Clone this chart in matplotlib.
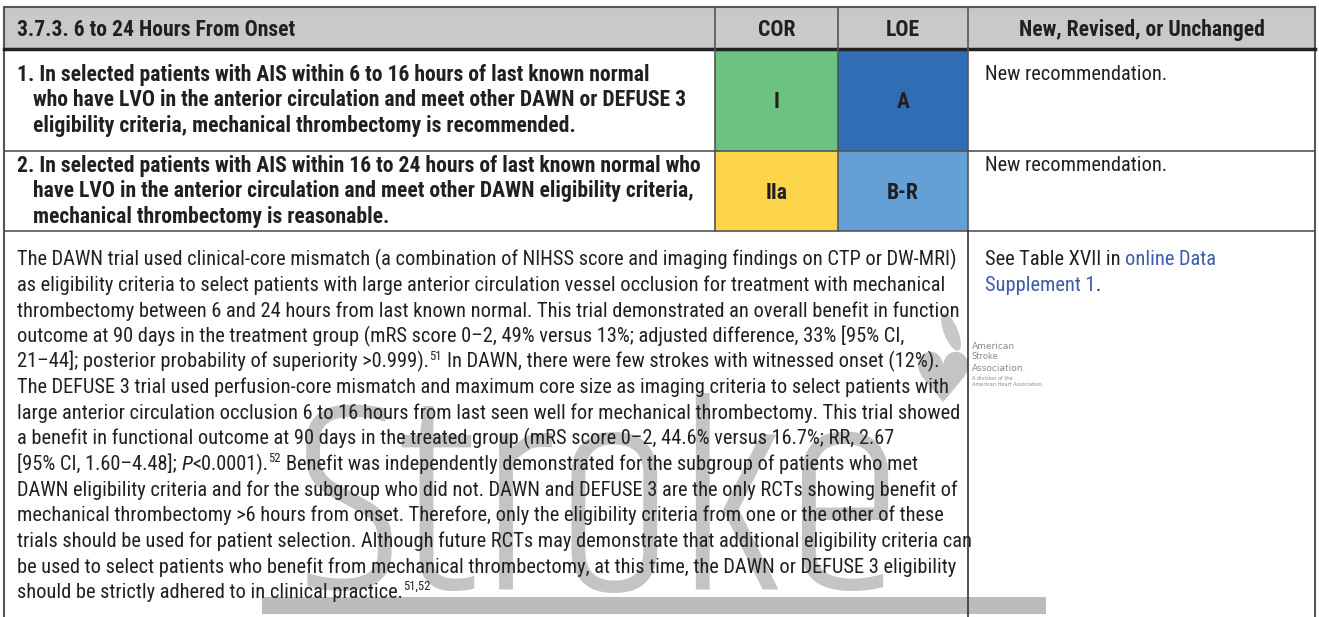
import os
import matplotlib
matplotlib.use("Agg")
import matplotlib.pyplot as plt
from matplotlib import font_manager
from matplotlib.font_manager import FontProperties
from matplotlib.patches import Rectangle, Ellipse

# table content
header_labels = ["3.7.3. 6 to 24 Hours From Onset", "COR", "LOE", "New, Revised, or Unchanged"]
rec_lines = [
    ["1. In selected patients with AIS within 6 to 16 hours of last known normal",
     "who have LVO in the anterior circulation and meet other DAWN or DEFUSE 3",
     "eligibility criteria, mechanical thrombectomy is recommended."],
    ["2. In selected patients with AIS within 16 to 24 hours of last known normal who",
     "have LVO in the anterior circulation and meet other DAWN eligibility criteria,",
     "mechanical thrombectomy is reasonable."],
]
cor = ["I", "IIa"]
loe = ["A", "B-R"]
status = ["New recommendation.", "New recommendation."]
cor_colors = ["#6cc281", "#fdd54a"]
loe_colors = ["#2f6db5", "#649fd5"]
# each paragraph line is a list of runs: (text, kind) with kind r=regular, i=italic, s=superscript
para_lines = [
    [("The DAWN trial used clinical-core mismatch (a combination of NIHSS score and imaging findings on CTP or DW-MRI)", "r")],
    [("as eligibility criteria to select patients with large anterior circulation vessel occlusion for treatment with mechanical", "r")],
    [("thrombectomy between 6 and 24 hours from last known normal. This trial demonstrated an overall benefit in function", "r")],
    [("outcome at 90 days in the treatment group (mRS score 0\u20132, 49% versus 13%; adjusted difference, 33% [95% CI,", "r")],
    [("21\u201344]; posterior probability of superiority >0.999).", "r"), ("51", "s"),
     (" In DAWN, there were few strokes with witnessed onset (12%).", "r")],
    [("The DEFUSE 3 trial used perfusion-core mismatch and maximum core size as imaging criteria to select patients with", "r")],
    [("large anterior circulation occlusion 6 to 16 hours from last seen well for mechanical thrombectomy. This trial showed", "r")],
    [("a benefit in functional outcome at 90 days in the treated group (mRS score 0\u20132, 44.6% versus 16.7%; RR, 2.67", "r")],
    [("[95% CI, 1.60\u20134.48]; ", "r"), ("P", "i"), ("<0.0001).", "r"), ("52", "s"),
     (" Benefit was independently demonstrated for the subgroup of patients who met", "r")],
    [("DAWN eligibility criteria and for the subgroup who did not. DAWN and DEFUSE 3 are the only RCTs showing benefit of", "r")],
    [("mechanical thrombectomy >6 hours from onset. Therefore, only the eligibility criteria from one or the other of these", "r")],
    [("trials should be used for patient selection. Although future RCTs may demonstrate that additional eligibility criteria can", "r")],
    [("be used to select patients who benefit from mechanical thrombectomy, at this time, the DAWN or DEFUSE 3 eligibility", "r")],
    [("should be strictly adhered to in clinical practice.", "r"), ("51,52", "s")],
]
evidence = [[("See Table XVII in ", "r"), ("online Data", "l")],
            [("Supplement 1", "l"), (".", "r")]]
logo_lines = ["American", "Stroke", "Association.", "A division of the", "American Heart Association."]


# pick a narrow / condensed face if one is installed
def wnum(w):
    return w if isinstance(w, int) else font_manager.weight_dict.get(w, 400)


def find_faces(prefix):
    got = {}
    for f in font_manager.fontManager.ttflist:
        key = (f.name + " " + os.path.basename(f.fname)).lower()
        narrow = "narrow" in key or ("condensed" in key and not any(b in key for b in ("semi", "extra", "ultra")))
        if not narrow or not f.name.lower().startswith(prefix):
            continue
        w = wnum(f.weight)
        if f.style == "normal" and 350 <= w <= 450:
            got.setdefault("r", f.fname)
        elif f.style == "normal" and 650 <= w <= 750:
            got.setdefault("b", f.fname)
        elif f.style != "normal" and 350 <= w <= 450:
            got.setdefault("i", f.fname)
    return got


faces = {}
for p in ["liberation sans narrow", "arial narrow", "nimbus sans narrow", "roboto condensed",
          "noto sans", "open sans", "dejavu sans"]:
    g = find_faces(p)
    if "r" in g and "b" in g:
        faces = g
        break


def fprop(kind, size):
    if faces:
        if kind in faces:
            return FontProperties(fname=faces[kind], size=size)
        return FontProperties(fname=faces["r"], size=size)
    return FontProperties(family="Liberation Sans", weight="bold" if kind == "b" else "normal",
                          style="italic" if kind == "i" else "normal", size=size)


W, H = 1319, 617
fig = plt.figure(figsize=(W / 100, H / 100), dpi=100)
ax = fig.add_axes([0, 0, 1, 1])
ax.set_xlim(0, W)
ax.set_ylim(H, 0)
ax.axis("off")
fig.canvas.draw()
rend = fig.canvas.get_renderer()


def tw(s, fp):
    return rend.get_text_width_height_descent(s, fp, ismath=False)[0]


# light face for the big watermark word: the one whose letters come closest to the reference height
wm_fp = fprop("r", 100)
best = None
for f in font_manager.fontManager.ttflist:
    if f.style != "normal" or not 250 <= wnum(f.weight) <= 350:
        continue
    try:
        fp = FontProperties(fname=f.fname, size=100)
        size = 100 * 607 / tw("Stroke", fp)
        fp = FontProperties(fname=f.fname, size=size)
        _, h, d = rend.get_text_width_height_descent("S", fp, ismath=False)
    except Exception:
        continue
    score = abs((h - d) - 185)
    if best is None or score < best[0]:
        best = (score, fp)
if best is not None:
    wm_fp = best[1]
else:
    wm_fp = fprop("r", 100 * 607 / tw("Stroke", wm_fp))

# font sizes so the longest lines fill the widths used in the reference
fs_r = 10 * 932 / tw(para_lines[0][0][0], fprop("r", 10))
fs_b = 10 * 683 / tw(rec_lines[1][0], fprop("b", 10))
ink = "#231f20"
link = "#3b5bab"


def draw_runs(x, y, runs, size, zorder=3):
    for s, kind in runs:
        if kind == "s":
            fp = fprop("r", size * 0.62)
            dy = -size * 0.55
        else:
            fp = fprop("i" if kind == "i" else "r", size)
            dy = 0
        base = fprop("r", size)
        space = tw("a a", base) - tw("aa", base)
        x += (len(s) - len(s.lstrip(" "))) * space
        core = s.strip(" ")
        ax.text(x, y + dy, core, fontproperties=fp, color=link if kind == "l" else ink,
                va="baseline", zorder=zorder)
        x += tw(core, fp) + (len(s) - len(s.rstrip(" "))) * space + (1 if kind == "s" else 0)
    return x


cols = [4, 715, 838, 968, 1315]
rows = [7, 49, 151, 231, 640]
cap_r = fs_r * 100 / 72 * 0.36
cap_b = fs_b * 100 / 72 * 0.36

# header band
ax.add_patch(Rectangle((cols[0], rows[0]), cols[-1] - cols[0], rows[1] - rows[0],
                       facecolor="#c8c9cb", edgecolor="none"))
hy = (rows[0] + rows[1]) / 2 + cap_b
ax.text(17, hy, header_labels[0], fontproperties=fprop("b", fs_b), color=ink, va="baseline")
for i in range(1, 4):
    ax.text((cols[i] + cols[i + 1]) / 2, hy, header_labels[i], fontproperties=fprop("b", fs_b),
            color=ink, ha="center", va="baseline")

# recommendation rows
rec_first = [73, 164]
rec_step = 25.6
for r in range(2):
    top, bot = rows[r + 1], rows[r + 2]
    ax.add_patch(Rectangle((cols[1], top), cols[2] - cols[1], bot - top, facecolor=cor_colors[r], edgecolor="none"))
    ax.add_patch(Rectangle((cols[2], top), cols[3] - cols[2], bot - top, facecolor=loe_colors[r], edgecolor="none"))
    for k, s in enumerate(rec_lines[r]):
        ax.text(17 if k == 0 else 33, rec_first[r] + k * rec_step + cap_b, s,
                fontproperties=fprop("b", fs_b), color=ink, va="baseline")
    mid = (top + bot) / 2 + cap_b
    ax.text((cols[1] + cols[2]) / 2, mid, cor[r], fontproperties=fprop("b", fs_b), color=ink,
            ha="center", va="baseline")
    ax.text((cols[2] + cols[3]) / 2, mid, loe[r], fontproperties=fprop("b", fs_b), color=ink,
            ha="center", va="baseline")
    ax.text(985, rec_first[r] + cap_r, status[r], fontproperties=fprop("r", fs_r), color=ink, va="baseline")

# watermark word and its bar
ax.text(298, 590, "Stroke", fontproperties=wm_fp, color="#c4c4c4", va="baseline", zorder=1)
ax.add_patch(Rectangle((262, 597), 1046 - 262, 17, facecolor="#bcbcbc", edgecolor="none", zorder=1))

# association logo: heart with a torch flame, then the name
ax.text(943, 402, "\u2665", fontsize=50, color="#c4c4c4", ha="center", va="baseline",
        family=["DejaVu Sans"], zorder=2)
ax.add_patch(Ellipse((951, 332), 14, 40, angle=-22, facecolor="#c8c8c8", edgecolor="none", zorder=2))
logo_y = [349, 359, 371, 380, 386]
logo_fs = [6.5, 6, 6.5, 3.6, 3.6]
for s, y, f in zip(logo_lines, logo_y, logo_fs):
    ax.text(972, y, s, fontsize=f, color="#8a8a8a", va="baseline", family=["DejaVu Sans"], zorder=2)

# paragraph and evidence column
para_first = 258
para_step = 25.6
for k, runs in enumerate(para_lines):
    draw_runs(17, para_first + k * para_step + cap_r, runs, fs_r)
for k, runs in enumerate(evidence):
    draw_runs(985, para_first + k * para_step + cap_r, runs, fs_r)

# grid lines
edge = "#555555"
ax.plot([cols[0], cols[0]], [rows[0], H], color=edge, lw=1.5)
ax.plot([cols[-1], cols[-1]], [rows[0], H], color=edge, lw=1.5)
ax.plot([cols[0], cols[-1]], [rows[0], rows[0]], color=edge, lw=1.5)
ax.plot([cols[0], cols[-1]], [rows[1], rows[1]], color="#222222", lw=2.5)
ax.plot([cols[0], cols[-1]], [rows[2], rows[2]], color=edge, lw=1.2)
ax.plot([cols[0], cols[-1]], [rows[3], rows[3]], color=edge, lw=1.2)
for c in cols[1:4]:
    ax.plot([c, c], [rows[0], rows[3]], color=edge, lw=1.2)
ax.plot([cols[3], cols[3]], [rows[3], H], color="#333333", lw=1.2)

fig.savefig("out.png", dpi=100)
